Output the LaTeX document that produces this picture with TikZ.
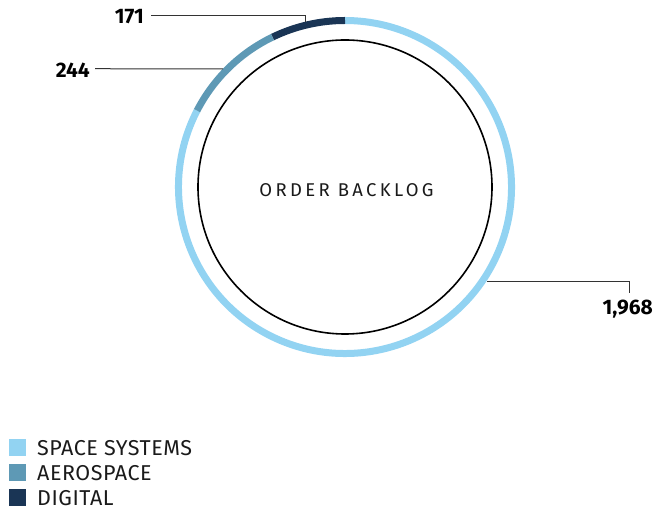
\documentclass[tikz,border=0pt]{standalone}
\usepackage{fontspec}
\usetikzlibrary{calc}
\setmainfont{Fira Sans}
\newfontfamily\spacedfont[LetterSpace=18]{Fira Sans}
\newfontfamily\legfont[LetterSpace=2.5]{Fira Sans}
\definecolor{spacec}{HTML}{92D3F2}
\definecolor{aeroc}{HTML}{5E99B5}
\definecolor{digic}{HTML}{1A3555}
\definecolor{leadc}{HTML}{333333}
\definecolor{textc}{HTML}{1A1A1A}
\begin{document}
\begin{tikzpicture}[x=1pt,y=1pt,
  seg/.style={line width=7pt,line cap=butt},
  lead/.style={draw=leadc,line width=1pt},
  num/.style={font=\bfseries\fontsize{21}{21}\selectfont,inner sep=0pt,anchor=base east},
  legbox/.style={minimum size=17pt,inner sep=0pt,anchor=center},
  legtext/.style={font=\legfont\fontsize{21.5}{21.5}\selectfont,text=textc,inner sep=0pt,anchor=base west}]
\useasboundingbox (0,0) rectangle (667,511);
\coordinate (c) at (345,324);
% ring
\draw[seg,spacec] ($(c)+(152.7:166.5)$) arc[start angle=152.7,end angle=450,radius=166.5];
\draw[seg,digic] ($(c)+(90:166.5)$) arc[start angle=90,end angle=115.8,radius=166.5];
\draw[seg,aeroc] ($(c)+(115.8:166.5)$) arc[start angle=115.8,end angle=152.7,radius=166.5];
% inner circle
\node[draw,circle,line width=1.6pt,minimum size=294pt,inner sep=0pt] (inner) at (c) {};
\node[font=\spacedfont\fontsize{18.5}{18.5}\selectfont,text=textc,xshift=1.5pt,yshift=-3pt] (title) at (c) {ORDER BACKLOG};
% labels
\node[num] (l171) at (144,487) {171};
\node[num] (l244) at (90,433) {244};
\node[num] (l1968) at (653,196) {1,968};
\coordinate (c171) at (305,489);
\coordinate (c244) at (223,442);
\coordinate (c1968) at (487,229);
\draw[lead] ([xshift=7pt,yshift=2pt]l171.east) -| (c171);
\draw[lead] ([xshift=5pt,yshift=2pt]l244.east) -- (c244);
\draw[lead] (c1968) -| ([xshift=2pt,yshift=7pt]l1968.north);
% legend
\node[legbox,fill=spacec] (b1) at (17.5,63.5) {};
\node[legbox,fill=aeroc] (b2) at (17.5,38.5) {};
\node[legbox,fill=digic] (b3) at (17.5,13) {};
\node[legtext] (t1) at (37,55) {SPACE SYSTEMS};
\node[legtext] (t2) at (37,30) {AEROSPACE};
\node[legtext] (t3) at (37,5) {DIGITAL};
\end{tikzpicture}
\end{document}
